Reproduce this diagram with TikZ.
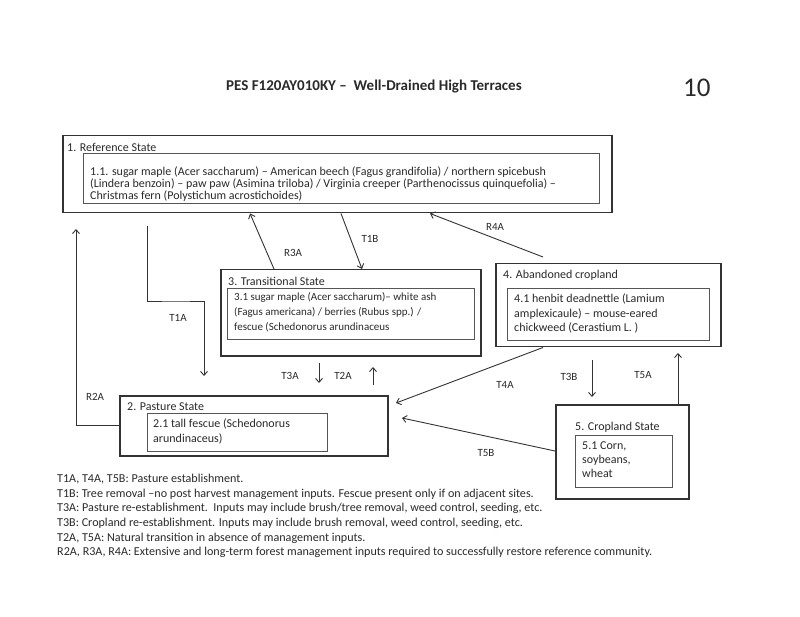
\documentclass[tikz,border=0pt]{standalone}
\usepackage{fontspec}
\setmainfont{Carlito}
\usetikzlibrary{arrows.meta}
\definecolor{ink}{HTML}{2A2A2A}
\definecolor{linecol}{HTML}{333333}
\definecolor{innercol}{HTML}{555555}
\begin{document}
\begin{tikzpicture}[x=1pt,y=-1pt,
  outer/.style={draw=linecol, line width=1.5pt, inner sep=0pt, anchor=north west},
  innerbox/.style={draw=innercol, line width=0.8pt, inner sep=0pt, anchor=north west},
  arr/.style={draw=linecol, line width=0.9pt, -{Straight Barb[length=4pt,width=7pt]}},
  lbl/.style={text=ink, font=\fontsize{11}{12}\selectfont, inner sep=0pt},
  head/.style={text=ink, font=\fontsize{12}{13}\selectfont, inner sep=0pt, anchor=west},
  bodytxt/.style={text=ink, align=left, inner sep=0pt, anchor=north west}
]
\useasboundingbox (0,0) rectangle (800,617);
\fill[white] (0,0) rectangle (800,617);

% title
\node[text=ink, font=\fontsize{15}{17}\selectfont\bfseries, inner sep=0pt, anchor=west] (title) at (226,87) {PES F120AY010KY –\ \ Well-Drained High Terraces};
\node[text=ink, font=\fontsize{27}{29}\selectfont, inner sep=0pt, anchor=west] (pagenum) at (683,88) {10};

% boxes
\node[outer, minimum width=549pt, minimum height=77pt] (b1) at (62,135) {};
\node[innerbox, minimum width=516pt, minimum height=50pt] (b1i) at (83,153) {};
\node[outer, minimum width=260pt, minimum height=86pt] (b3) at (220,269) {};
\node[innerbox, minimum width=247pt, minimum height=51pt] (b3i) at (227,288) {};
\node[outer, minimum width=225pt, minimum height=83pt] (b4) at (495,263) {};
\node[innerbox, minimum width=202pt, minimum height=52pt] (b4i) at (507,288) {};
\node[outer, minimum width=133pt, minimum height=94pt] (b5) at (555,404) {};
\node[innerbox, minimum width=97pt, minimum height=52pt] (b5i) at (575,435) {};
\node[outer, minimum width=268pt, minimum height=60pt] (b2) at (119,395) {};
\node[innerbox, minimum width=180pt, minimum height=38pt] (b2i) at (147,413) {};

% box headings
\node[head] (h1) at (67,147) {1. Reference State};
\node[head] (h3) at (228,281) {3. Transitional State};
\node[head] (h4) at (503,275) {4. Abandoned cropland};
\node[head] (h5) at (575,427) {5. Cropland State};
\node[head] (h2) at (127,407) {2. Pasture State};

% box texts
\node[bodytxt, font=\fontsize{12}{11.8}\selectfont] (t1) at (90,167) {1.1. sugar maple (Acer saccharum) – American beech (Fagus grandifolia) / northern spicebush\\(Lindera benzoin) – paw paw (Asimina triloba) / Virginia creeper (Parthenocissus quinquefolia) –\\Christmas fern (Polystichum acrostichoides)};
\node[bodytxt, font=\fontsize{11}{14.8}\selectfont] (t3) at (234,292.5) {3.1 sugar maple (Acer saccharum)– white ash\\(Fagus americana) / berries (Rubus spp.) /\\fescue (Schedonorus arundinaceus};
\node[bodytxt, font=\fontsize{12}{14.5}\selectfont] (t4) at (514,294) {4.1 henbit deadnettle (Lamium\\amplexicaule) – mouse-eared\\chickweed (Cerastium L. )};
\node[bodytxt, font=\fontsize{12}{14}\selectfont] (t5) at (582,442) {5.1 Corn,\\soybeans,\\wheat};
\node[bodytxt, font=\fontsize{12}{15}\selectfont] (t2) at (153,419) {2.1 tall fescue (Schedonorus\\arundinaceus)};

% connectors
\coordinate (t1a0) at (147,226);
\coordinate (t1a1) at (204,376);
\draw[arr] (t1a0) |- (176,301) -| (t1a1);
\coordinate (r2a1) at (76,229);
\draw[arr] (b2.west |- 0,425) -| (r2a1);
\draw[arr] (274,0 |- b3.north) -- (250,0 |- b1.south);
\draw[arr] (341,0 |- b1.south) -- (362,0 |- b3.north);
\coordinate (r4a0) at (543,257);
\draw[arr] (r4a0) -- (430,0 |- b1.south);
\coordinate (t3a0) at (319,363); \coordinate (t3a1) at (319,383);
\draw[arr] (t3a0) -- (t3a1);
\coordinate (t2a0) at (373,385); \coordinate (t2a1) at (373,367);
\draw[arr] (t2a0) -- (t2a1);
\coordinate (t4a1) at (396,403);
\draw[arr] (543,0 |- b4.south) -- (t4a1);
\coordinate (t3b0) at (592,360); \coordinate (t3b1) at (592,397);
\draw[arr] (t3b0) -- (t3b1);
\coordinate (t5a1) at (678,353);
\draw[arr] (678,0 |- b5.north) -- (t5a1);
\coordinate (t5b1) at (402,418);
\draw[arr] (b5.west |- 0,451) -- (t5b1);

% connector labels
\node[lbl] (lT1A) at (178,318) {T1A};
\node[lbl] (lR2A) at (95,397) {R2A};
\node[lbl] (lR3A) at (293,253) {R3A};
\node[lbl] (lT1B) at (370,239) {T1B};
\node[lbl] (lR4A) at (495,227) {R4A};
\node[lbl] (lT3A) at (290,376) {T3A};
\node[lbl] (lT2A) at (343,376) {T2A};
\node[lbl] (lT4A) at (505,385) {T4A};
\node[lbl] (lT3B) at (569,377) {T3B};
\node[lbl] (lT5A) at (643,375) {T5A};
\node[lbl] (lT5B) at (486,453) {T5B};

% legend
\node[bodytxt, font=\fontsize{12.1}{14.6}\selectfont] (legend) at (57,474) {T1A, T4A, T5B: Pasture establishment.\\
T1B: Tree removal –no post harvest management inputs. Fescue present only if on adjacent sites.\\
T3A: Pasture re-establishment.\ \ Inputs may include brush/tree removal, weed control, seeding, etc.\\
T3B: Cropland re-establishment. Inputs may include brush removal, weed control, seeding, etc.\\
T2A, T5A: Natural transition in absence of management inputs.\\
R2A, R3A, R4A: Extensive and long-term forest management inputs required to successfully restore reference community.};
\end{tikzpicture}
\end{document}
